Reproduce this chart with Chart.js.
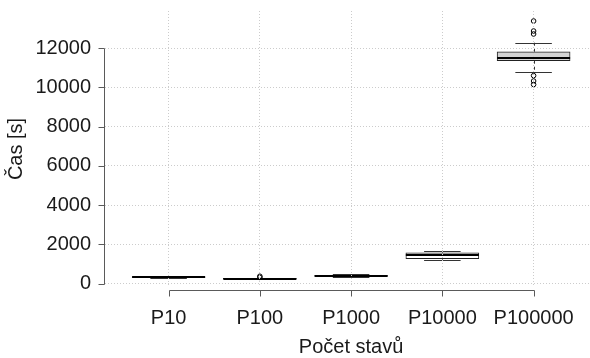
<!DOCTYPE html>
<html><head><meta charset="utf-8">
<script src="https://cdn.jsdelivr.net/npm/chart.js@4"></script>
<style>html,body{margin:0;padding:0;background:#fff}</style>
</head><body>
<canvas id="c" width="590" height="358"></canvas>
<script>
const categories = ['P10', 'P100', 'P1000', 'P10000', 'P100000'];
const whiskerLow = [300, 220, 355, 1222, 10778];
const q1 = [320, 240, 380, 1273, 11353];
const median = [335, 255, 395, 1446, 11501];
const q3 = [350, 270, 410, 1578, 11811];
const whiskerHigh = [370, 290, 478, 1680, 12270];
const outliers = [[], [320, 380], [], [], [13374, 12865, 12713, 10595, 10320, 10142]];
const yTickValues = [0, 2000, 4000, 6000, 8000, 10000, 12000];
const xTitle = 'Počet stavů';
const yTitle = 'Čas [s]';

const FONT = "'Liberation Sans', Arial, Helvetica, sans-serif";
const TXT = '#1a1a1a';

const boxPlugin = {
  id: 'boxParts',
  afterDatasetsDraw(chart) {
    const {ctx, scales: {x, y}} = chart;
    const bars = chart.getDatasetMeta(0).data;
    ctx.save();
    categories.forEach((c, i) => {
      const cx = x.getPixelForValue(i + 1);
      const w = bars[i].width;
      const sw = w / 2;
      const crisp = v => Math.round(v) + 0.5;
      ctx.strokeStyle = '#333';
      ctx.lineWidth = 1;
      ctx.setLineDash([3, 3]);
      const xc = crisp(cx);
      ctx.beginPath();
      ctx.moveTo(xc, y.getPixelForValue(q3[i]));
      ctx.lineTo(xc, y.getPixelForValue(whiskerHigh[i]));
      ctx.moveTo(xc, y.getPixelForValue(q1[i]));
      ctx.lineTo(xc, y.getPixelForValue(whiskerLow[i]));
      ctx.stroke();
      ctx.setLineDash([]);
      ctx.beginPath();
      const yh = crisp(y.getPixelForValue(whiskerHigh[i]));
      const yl = crisp(y.getPixelForValue(whiskerLow[i]));
      ctx.moveTo(cx - sw / 2, yh); ctx.lineTo(cx + sw / 2, yh);
      ctx.moveTo(cx - sw / 2, yl); ctx.lineTo(cx + sw / 2, yl);
      ctx.stroke();
      ctx.strokeStyle = '#000';
      ctx.lineWidth = 2.2;
      const ym = Math.round(y.getPixelForValue(median[i]));
      ctx.beginPath();
      ctx.moveTo(cx - w / 2, ym); ctx.lineTo(cx + w / 2, ym);
      ctx.stroke();
    });
    ctx.restore();
  }
};

const axisPlugin = {
  id: 'rAxes',
  afterDraw(chart) {
    const {ctx, chartArea, scales: {x, y}} = chart;
    ctx.save();
    ctx.strokeStyle = '#5a5a5a';
    ctx.lineWidth = 1;
    const ax = Math.round(chartArea.left) - 0.5;
    ctx.beginPath();
    ctx.moveTo(ax, Math.round(y.getPixelForValue(yTickValues[0])) + 0.5);
    ctx.lineTo(ax, Math.round(y.getPixelForValue(yTickValues[yTickValues.length - 1])) + 0.5);
    yTickValues.forEach(v => {
      const py = Math.round(y.getPixelForValue(v)) + 0.5;
      ctx.moveTo(ax, py); ctx.lineTo(ax - 6, py);
    });
    const ay = Math.round(chartArea.bottom) + 3.5;
    ctx.moveTo(Math.round(x.getPixelForValue(1)) + 0.5, ay);
    ctx.lineTo(Math.round(x.getPixelForValue(categories.length)) + 0.5, ay);
    categories.forEach((c, i) => {
      const px = Math.round(x.getPixelForValue(i + 1)) + 0.5;
      ctx.moveTo(px, ay); ctx.lineTo(px, ay + 6);
    });
    ctx.stroke();
    ctx.fillStyle = TXT;
    ctx.font = '20px ' + FONT;
    ctx.textAlign = 'center';
    ctx.textBaseline = 'middle';
    const mid = (x.getPixelForValue(1) + x.getPixelForValue(categories.length)) / 2;
    ctx.fillText(xTitle, mid, x.bottom - 11);
    ctx.translate(16, (chartArea.top + chartArea.bottom) / 2);
    ctx.rotate(-Math.PI / 2);
    ctx.fillText(yTitle, 0, 0);
    ctx.restore();
  }
};

const outlierPoints = [];
outliers.forEach((arr, i) => arr.forEach(v => outlierPoints.push({x: i + 1, y: v})));

new Chart(document.getElementById('c'), {
  type: 'bar',
  data: {
    datasets: [
      {
        type: 'bar',
        data: categories.map((c, i) => ({x: i + 1, y: [q1[i], q3[i]]})),
        backgroundColor: ['#ffffff', '#ffffff', '#ffffff', '#ffffff', '#d3d3d3'],
        borderColor: '#222',
        borderWidth: 1,
        borderSkipped: false,
        barThickness: 73,
        grouped: false
      },
      {
        type: 'scatter',
        data: outlierPoints,
        pointStyle: 'circle',
        pointRadius: 2.3,
        pointHoverRadius: 2.3,
        pointBorderWidth: 1,
        borderColor: '#000',
        backgroundColor: 'rgba(0,0,0,0)',
        pointBackgroundColor: 'rgba(0,0,0,0)',
        pointBorderColor: '#000'
      }
    ]
  },
  options: {
    responsive: false,
    animation: false,
    devicePixelRatio: 1,
    events: [],
    layout: {autoPadding: false, padding: {top: 11, left: 0, right: 0, bottom: 0}},
    plugins: {legend: {display: false}, tooltip: {enabled: false}},
    scales: {
      x: {
        type: 'linear',
        offset: false,
        min: 0.303,
        max: 5.618,
        afterBuildTicks: s => { s.ticks = categories.map((c, i) => ({value: i + 1})); },
        afterFit: s => { s.height = 71; s.paddingLeft = 0; s.paddingRight = 0; s.paddingTop = 0; s.paddingBottom = 0; },
        grid: {color: '#cccccc', lineWidth: 1, drawTicks: false, offset: false, z: 1},
        border: {display: false, dash: [1, 2]},
        ticks: {
          autoSkip: false, maxRotation: 0, minRotation: 0, padding: 21, color: TXT,
          font: {family: FONT, size: 20, lineHeight: 1},
          callback: v => categories[Math.round(v) - 1] ?? ''
        },
        title: {display: false}
      },
      y: {
        type: 'linear',
        min: -168,
        max: 13884,
        afterBuildTicks: s => { s.ticks = yTickValues.map(v => ({value: v})); },
        afterFit: s => { s.width = 105; s.paddingTop = 0; s.paddingBottom = 0; s.paddingLeft = 0; s.paddingRight = 0; },
        grid: {color: '#cccccc', lineWidth: 1, drawTicks: false, z: 1},
        border: {display: false, dash: [1, 2]},
        ticks: {padding: 14, color: TXT, font: {family: FONT, size: 20, lineHeight: 1},
          callback: v => String(v)},
        title: {display: false}
      }
    }
  },
  plugins: [boxPlugin, axisPlugin]
});
</script>
</body></html>
